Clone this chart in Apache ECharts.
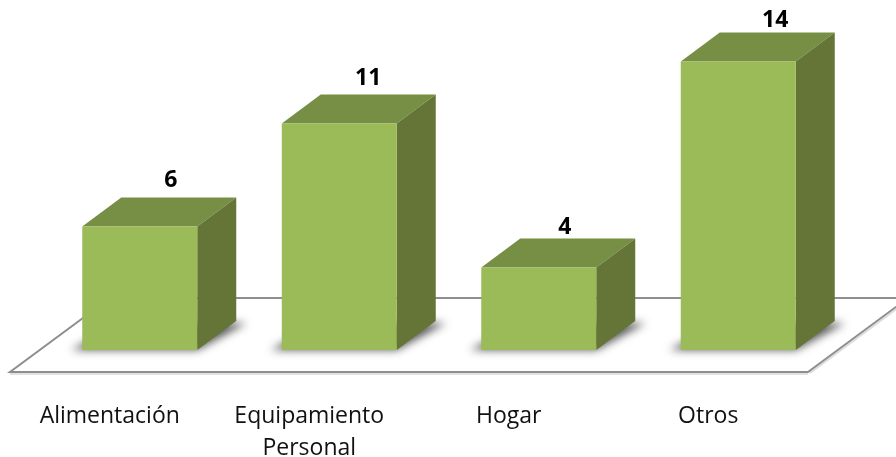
<!DOCTYPE html>
<html><head><meta charset="utf-8">
<style>html,body{margin:0;padding:0;background:#fff}#c{width:896px;height:457px}</style>
<script src="https://cdn.jsdelivr.net/npm/echarts@6/dist/echarts.min.js"></script>
</head><body><div id="c"></div>
<script>
const categories = ['Alimentación', 'Equipamiento\nPersonal', 'Hogar', 'Otros'];
const values = [6, 11, 4, 14];
const labelNudgeX = [0, -2, -5, 6];
const labelNudgeY = [0, 1, 6, 5];

const FONT = '"Open Sans", sans-serif';
const SHIFT_X = 30, SHIFT_Y = 22, HALF_W = 57.5, DEPTH_X = 39, DEPTH_Y = 29;
const FLOOR_DX = 100, FLOOR_DY = 74, SHADOW_AWAY = 2000;
const FRONT = '#9BBB59', TOP = '#778F44', SIDE = '#647537', LINE = '#8E8E8E';

const poly = (points, fill, extra) => ({type: 'polygon', shape: {points}, style: Object.assign({fill}, extra || {})});

function renderFloor(params, api) {
  const g = params.coordSys;
  const y = g.y + g.height, x0 = g.x, x1 = g.x + g.width;
  const stroke = (pts, color, w) => ({type: 'polyline', shape: {points: pts},
    style: {fill: null, stroke: color, lineWidth: w}, silent: true});
  return {type: 'group', children: [
    stroke([[x0, y + 2], [x1, y + 2]], '#E2E2E2', 2),
    stroke([[x1 + 2, y + 1], [x1 + 2 + FLOOR_DX, y + 1 - FLOOR_DY]], '#DDDDDD', 2),
    stroke([[x0 + FLOOR_DX, y - FLOOR_DY], [x1 + FLOOR_DX, y - FLOOR_DY], [x1, y], [x0, y], [x0 + FLOOR_DX, y - FLOOR_DY]], LINE, 2)
  ]};
}

function renderBar(params, api) {
  const i = api.value(0), v = api.value(1);
  const c = api.coord([i, 0])[0] + SHIFT_X;
  const y0 = api.coord([i, 0])[1] - SHIFT_Y;
  const yT = api.coord([i, v])[1] - SHIFT_Y;
  const l = c - HALF_W, r = c + HALF_W;
  const dx = DEPTH_X, dy = DEPTH_Y;
  const a = SHADOW_AWAY;
  return {type: 'group', children: [
    poly([[l - 11 - a, y0], [r - a, y0], [r + dx + 10 - a, y0 - dy + 2], [l + dx - a, y0 - dy + 2]], '#000',
      {shadowBlur: 9, shadowColor: 'rgba(80,80,80,0.95)', shadowOffsetX: a}),
    poly([[l, yT], [l + dx, yT - dy], [r + dx, yT - dy], [r, yT]], TOP),
    poly([[r, yT], [r + dx, yT - dy], [r + dx, y0 - dy], [r, y0]], SIDE),
    poly([[l, yT], [r, yT], [r, y0], [l, y0]], FRONT),
    {type: 'text', style: {
      text: String(v), x: c + 31 + labelNudgeX[i], y: yT - dy - 17 + labelNudgeY[i],
      align: 'center', verticalAlign: 'middle',
      font: 'bold 23px ' + FONT, fill: '#000'
    }}
  ]};
}

const chart = echarts.init(document.getElementById('c'), null, {renderer: 'canvas'});
chart.setOption({
  animation: false,
  backgroundColor: '#fff',
  grid: {left: 10, width: 798, top: 42.4, height: 329.6, outerBoundsMode: 'none'},
  xAxis: {
    type: 'category', data: categories,
    axisLine: {show: false}, axisTick: {show: false}, splitLine: {show: false},
    axisLabel: {interval: 0, color: '#111', fontFamily: FONT, fontSize: 23, lineHeight: 32, margin: 28}
  },
  yAxis: {type: 'value', min: 0, max: 16, show: false},
  series: [
    {type: 'custom', z: 1, silent: true, clip: false, renderItem: renderFloor, data: [[0, 0]], encode: {x: 0, y: 1}},
    {type: 'custom', z: 2, silent: true, clip: false, renderItem: renderBar,
     data: values.map((v, i) => [i, v]), encode: {x: 0, y: 1}}
  ]
});
</script></body></html>
